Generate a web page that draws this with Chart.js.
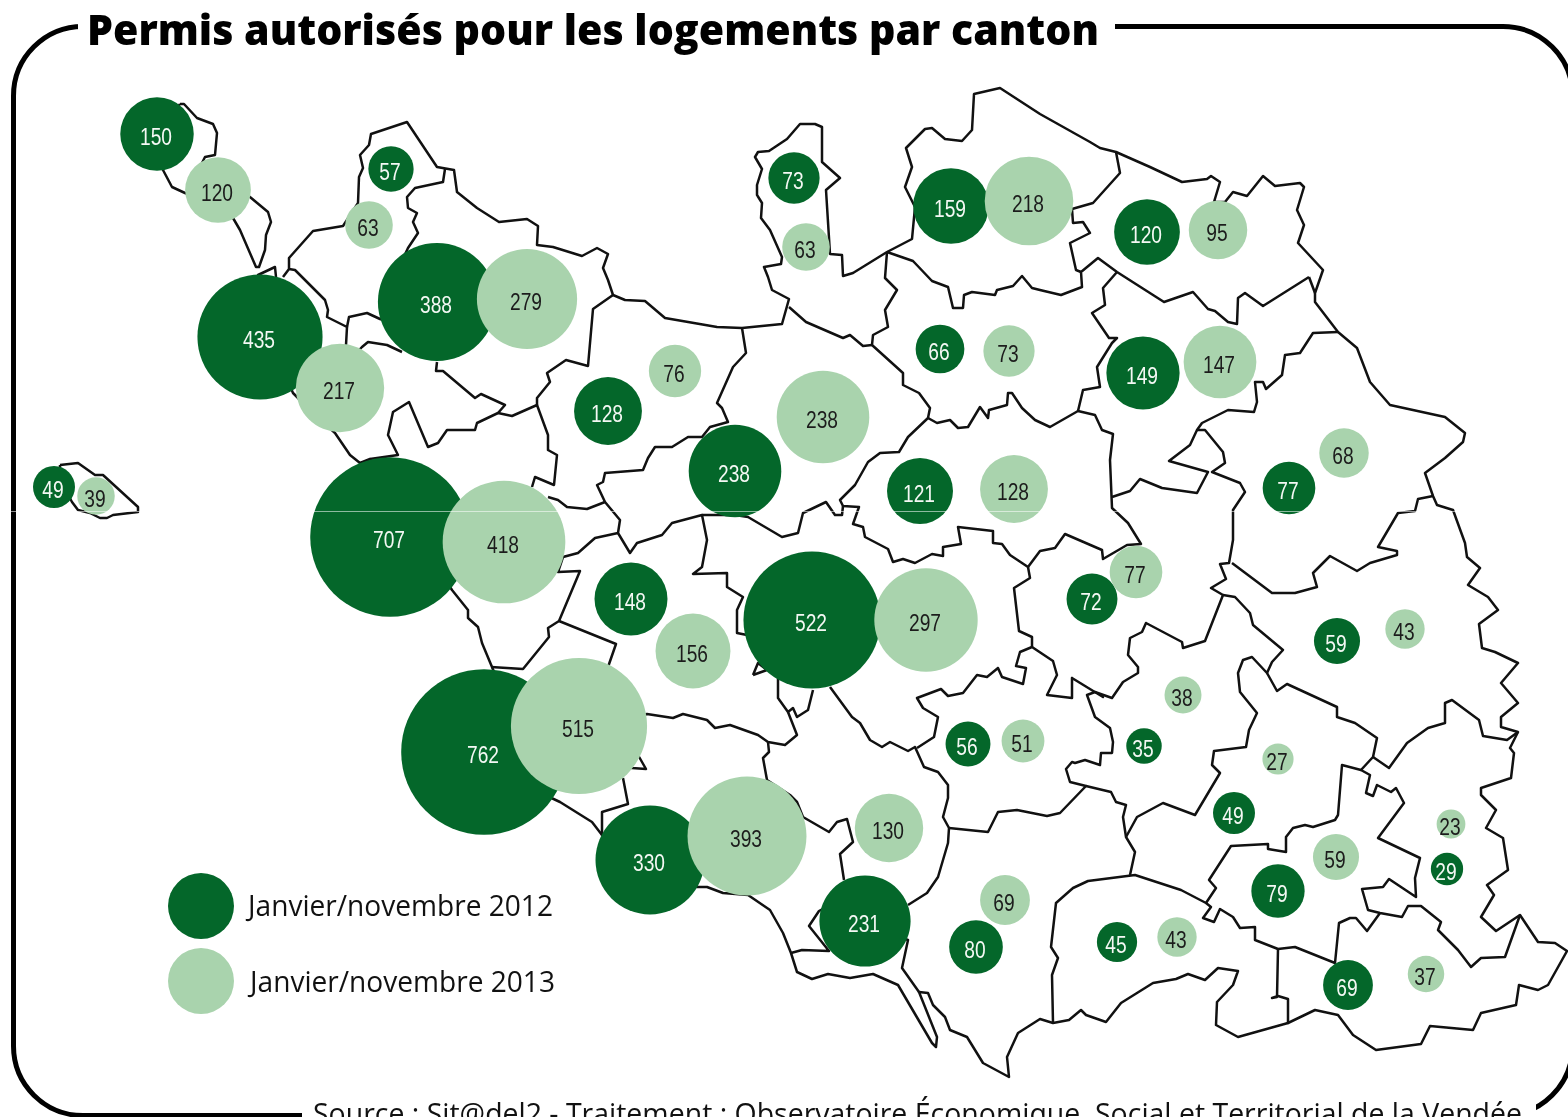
<!DOCTYPE html>
<html lang="fr"><head><meta charset="utf-8"><title>Permis autorisés pour les logements par canton</title>
<script src="https://cdn.jsdelivr.net/npm/chart.js@4"></script>
<style>
html,body{margin:0;padding:0;background:#fff;width:1568px;height:1117px;overflow:hidden}
#stage{position:relative;width:1568px;height:1117px;overflow:hidden}
#frame{position:absolute;left:11px;top:24px;width:1554px;height:1084px;border:5px solid #000;border-radius:72px}
.mask{position:absolute;background:#fff}
.t{position:absolute;white-space:nowrap;line-height:1;font-family:"Open Sans",sans-serif;color:#111;transform-origin:0 0}
canvas{position:absolute;left:0;top:0}
</style></head><body><div id="stage">
<div id="frame"></div>
<div class="mask" style="left:78px;top:10px;width:1037px;height:30px"></div>
<div class="mask" style="left:302px;top:1100px;width:1234px;height:17px"></div>
<canvas id="c" width="1568" height="1117"></canvas>
<div class="t" id="title" data-w="1012" style="left:87px;top:8px;font-size:42px;font-weight:800;color:#000">Permis autorisés pour les logements par canton</div>
<div class="t" id="l1" data-w="305" style="left:248px;top:890px;font-size:29px">Janvier/novembre 2012</div>
<div class="t" id="l2" data-w="305" style="left:250px;top:966px;font-size:29px">Janvier/novembre 2013</div>
<div class="t" id="src" data-w="1209" style="left:313px;top:1098px;font-size:30px">Source : Sit@del2 - Traitement : Observatoire Économique, Social et Territorial de la Vendée</div>
</div>
<script>
// Values
const values2012=[150,57,73,159,120,388,435,66,149,128,238,121,77,49,707,148,72,522,59,56,35,49,762,330,79,29,231,80,45,69];
const x2012=[157,391,794,951,1147,437,260,940,1143,608,735,920,1289,54,390,631,1092,812,1337,968,1144,1234,484,650,1278,1447,865,976,1117,1348];
const y2012=[134,169,178,206,232,302,337,349,373,411,471,491,488,487,537,599,599,620,641,744,746,813,752,860,891,869,921,947,942,985];
const values2013=[120,63,63,218,95,279,73,147,76,217,238,128,68,39,418,77,156,297,43,38,51,27,515,393,130,23,59,69,43,37];
const x2013=[218,369,806,1029,1218,527,1009,1220,675,340,823,1014,1344,96,504,1136,693,926,1405,1183,1023,1278,579,747,889,1451,1336,1005,1177,1426];
const y2013=[190,225,247,201,230,299,351,362,371,388,417,489,453,496,542,572,651,620,629,695,741,759,726,836,828,824,857,900,937,974];
const seriesNames=["Janvier/novembre 2012","Janvier/novembre 2013"];
const legendKeyX=[201,201];
const legendKeyY=[906,981];
// Canton outlines
const islandNorth=[[180,104],[184,104],[197,118],[213,124],[217,133],[215,155],[205,157],[201,165],[225,180],[250,197],[268,212],[271,222],[266,235],[265,250],[259,267],[256,267],[240,230],[233,218],[215,205],[185,193],[172,187],[163,170],[150,140],[180,104]];
const islandWest=[[60,465],[78,463],[95,475],[103,475],[138,507],[138,512],[113,515],[107,518],[100,518],[90,513],[78,510],[72,502],[60,480],[60,465]];
const outerNorth=[[276,277],[275,267],[258,275],[270,340],[293,393],[310,410],[335,433],[350,455],[360,463],[370,459],[420,540],[452,590],[468,610],[468,618],[478,627],[482,643],[492,667],[545,795],[560,802],[592,822],[602,835],[650,870],[697,887],[707,887],[723,893],[748,895],[770,910],[783,933],[791,953],[797,972],[812,979],[828,974],[850,978],[873,974],[898,985],[932,1043],[936,1047],[937,1037],[919,992],[928,993],[933,1005],[945,1017],[950,1030],[967,1037],[983,1063],[1009,1077],[1007,1057],[1018,1033],[1040,1019],[1053,1023],[1069,1020],[1081,1010],[1086,1015],[1106,1022],[1121,1003],[1153,983],[1176,979],[1188,974],[1205,980],[1218,968],[1238,971],[1233,985],[1217,1002],[1216,1025],[1238,1037],[1288,1023],[1315,1010],[1338,1015],[1353,1035],[1376,1050],[1421,1044],[1430,1026],[1473,1030],[1481,1013],[1516,1005],[1519,985],[1538,990],[1548,985],[1567,951],[1555,943],[1538,942],[1520,915],[1496,931],[1481,917],[1494,895],[1487,885],[1508,870],[1503,838],[1486,828],[1496,810],[1481,795],[1481,788],[1511,778],[1514,753],[1510,748],[1518,732],[1501,727],[1501,717],[1518,703],[1501,683],[1518,663],[1495,652],[1482,648],[1479,624],[1498,610],[1488,597],[1468,585],[1480,568],[1467,557],[1465,543],[1453,510],[1437,505],[1433,496],[1425,473],[1445,458],[1463,442],[1465,433],[1445,417],[1390,405],[1370,382],[1357,348],[1338,332],[1315,302],[1315,293],[1323,270],[1298,243],[1304,225],[1297,210],[1304,187],[1300,183],[1275,186],[1263,176],[1247,196],[1233,192],[1225,202],[1214,202],[1220,182],[1211,176],[1207,179],[1182,182],[1150,167],[1116,152],[1100,148],[1090,142],[1040,114],[1000,88],[974,94],[972,130],[962,141],[945,139],[932,128],[925,129],[906,148],[912,167],[905,187],[915,207],[912,239],[887,252],[853,273],[843,276],[842,255],[830,254],[826,190],[840,178],[822,162],[822,127],[815,124],[800,124],[787,139],[769,151],[758,152],[755,157],[762,169],[757,185],[757,195],[762,203],[761,218],[770,230],[782,257],[781,264],[764,267],[768,277],[772,290],[789,299],[782,324],[742,328],[717,327],[665,318],[645,301],[625,300],[613,295],[608,280],[603,268],[608,254],[597,248],[582,256],[553,247],[537,245],[538,226],[527,219],[499,222],[477,208],[457,192],[454,170],[437,167],[407,122],[371,134],[369,145],[360,155],[363,168],[359,177],[358,203],[343,226],[313,231],[289,258],[289,269],[283,277]];
const bordersA=[
[[1309,277],[1315,293]],
[[289,269],[295,270],[325,300],[328,310],[327,317],[347,327],[346,345]],
[[347,327],[349,317],[367,313],[380,319],[400,325]],
[[350,360],[362,347],[368,342],[387,345],[402,352]],
[[437,362],[436,371],[443,371],[475,398],[481,394],[505,405],[498,413],[512,416],[537,405],[548,435],[548,450],[557,455],[554,485],[535,477],[532,487]],
[[370,459],[398,455],[388,435],[393,412],[409,402],[428,447],[438,443],[447,430],[475,430],[477,423],[498,413]],
[[445,169],[443,182],[415,188],[407,197],[408,208],[417,213],[413,222],[418,233],[408,248],[400,265]],
[[613,295],[593,309],[588,366],[566,360],[547,373],[550,382],[537,398],[537,405]],
[[742,328],[746,353],[733,367],[717,403],[722,408],[728,422],[710,427],[702,437],[688,437],[672,447],[655,447],[648,458],[643,470],[605,473],[603,482],[597,485],[605,502],[620,520],[618,533],[630,553],[637,543],[662,535],[672,523],[702,515],[707,540],[702,567],[693,574],[727,573],[727,587],[743,597],[737,610],[737,633],[747,635],[780,640]],
[[605,502],[587,509],[567,507],[558,500],[548,497]],
[[618,533],[595,538],[578,553],[563,557],[558,572],[580,571],[559,621],[548,628],[549,637],[523,669],[491,667]],
[[559,621],[616,644],[608,667]],
[[702,515],[735,515],[748,517],[782,537],[798,533],[803,513],[826,502],[835,515],[842,515],[843,506]],
[[753,675],[758,663],[767,670],[753,675]],
[[778,677],[778,698],[788,712],[793,708],[797,717],[808,710],[813,690]]
];
const bordersB=[
[[788,712],[797,735],[785,745],[768,742],[758,735],[730,725],[715,728],[707,720],[683,714],[673,718],[647,714],[630,720]],
[[768,742],[769,752],[763,758],[767,780],[790,795],[797,802],[803,817],[829,832],[837,822],[847,819],[853,842],[840,854],[844,880]],
[[625,745],[638,755],[646,769],[632,768],[625,765]],
[[623,778],[628,804],[602,812],[602,835]],
[[791,953],[802,950],[829,951],[809,926],[819,911],[830,905]],
[[908,905],[927,893],[938,877],[948,843],[949,828],[943,817],[948,798],[948,785],[938,772],[924,767],[915,747],[908,751],[890,742],[882,747],[870,740],[860,723],[852,717],[830,687]],
[[880,930],[908,940],[902,968],[919,992]],
[[949,828],[988,832],[998,812],[1017,810],[1047,816],[1060,813],[1086,786],[1070,782],[1066,769],[1072,762],[1075,763],[1085,760],[1100,765],[1101,753],[1112,753],[1113,742],[1110,728],[1095,717],[1087,695],[1095,692],[1112,698],[1123,682],[1138,673],[1138,667],[1128,655],[1130,638],[1142,632],[1146,623],[1182,642],[1183,648],[1205,641],[1223,595]],
[[1086,786],[1111,792],[1116,802],[1126,805],[1123,817],[1126,837],[1135,852],[1130,875]],
[[1095,692],[1103,697],[1072,678],[1072,698],[1047,695],[1057,675],[1053,661],[1032,647],[1020,652],[1016,666],[1026,668],[1023,684],[1002,677],[998,668],[987,677],[977,675],[963,693],[948,696],[941,689],[917,698],[923,708],[938,717],[934,737],[917,748]],
[[1032,647],[1032,637],[1019,631],[1014,588],[1030,578],[1028,567],[1010,555],[1002,544],[993,543],[993,531],[958,527],[961,544],[943,547],[943,556],[932,554],[915,563],[903,559],[893,562],[888,549],[865,537],[863,527],[853,524],[859,507],[843,506],[840,500],[855,485],[868,462],[880,453],[899,452],[908,437],[928,418],[930,408],[919,393],[903,385],[903,373],[872,345],[873,335],[888,327],[885,310],[897,290],[885,278],[887,252]],
[[789,307],[806,322],[843,338],[850,335],[863,346],[872,345]],
[[928,418],[937,423],[950,420],[958,428],[968,427],[980,407],[988,418],[989,410],[1007,405],[1008,393],[1012,393],[1022,408],[1035,420],[1050,427],[1078,411],[1095,415],[1102,430],[1113,434],[1110,460],[1112,508],[1128,523],[1141,544],[1127,545],[1103,559],[1102,550],[1065,534],[1055,548],[1040,551],[1028,567]]
];
const bordersC=[
[[1078,411],[1083,390],[1100,387],[1097,367],[1112,343],[1117,338],[1109,338],[1092,313],[1105,305],[1103,288],[1117,272]],
[[887,252],[913,261],[932,281],[948,287],[953,308],[963,308],[964,295],[972,292],[995,295],[997,290],[1013,286],[1022,276],[1032,288],[1040,290],[1061,295],[1082,287],[1081,272],[1098,258],[1117,272],[1164,302],[1193,292],[1208,309],[1215,311],[1228,322],[1237,324],[1238,298],[1245,293],[1263,306],[1309,277]],
[[1081,272],[1076,270],[1070,243],[1090,233],[1083,222],[1073,223],[1072,209],[1093,203],[1120,173],[1116,152]],
[[1338,332],[1313,333],[1300,353],[1285,355],[1282,375],[1266,389],[1263,382],[1255,382],[1257,402],[1254,412],[1228,410],[1202,423],[1197,430],[1190,445],[1169,461],[1208,472],[1197,493],[1162,488],[1140,479],[1130,491],[1112,497]],
[[1197,430],[1205,430],[1223,452],[1225,463],[1212,472],[1240,483],[1245,492],[1233,510],[1233,540],[1229,563],[1220,564],[1226,579],[1211,588],[1223,595],[1235,597],[1250,613],[1253,625],[1283,650],[1272,662],[1267,673],[1252,657],[1243,660],[1238,673],[1240,692],[1257,713],[1249,730],[1246,747],[1214,751],[1212,765],[1220,773],[1195,815],[1163,803],[1137,817],[1126,837]],
[[1232,563],[1272,593],[1295,593],[1317,587],[1313,573],[1330,556],[1357,571],[1370,563],[1397,555],[1397,551],[1378,547],[1398,513],[1415,511],[1418,499],[1433,496]],
[[1267,673],[1277,691],[1287,684],[1337,707],[1337,717],[1355,723],[1377,738],[1373,757],[1361,770],[1342,765],[1338,815],[1335,820],[1313,827],[1305,825],[1293,828],[1286,837],[1286,852],[1268,849],[1268,844],[1231,846],[1209,880],[1216,888],[1206,903]],
[[1373,757],[1389,768],[1407,743],[1428,728],[1445,723],[1445,703],[1452,700],[1479,720],[1483,736],[1507,740],[1518,732]],
[[1361,770],[1370,775],[1366,793],[1373,796],[1377,785],[1391,792],[1396,788],[1404,803],[1378,838],[1420,858],[1415,878],[1416,897],[1389,879],[1383,887],[1362,889],[1368,910],[1380,913],[1402,917],[1408,906],[1421,906],[1441,922],[1438,930],[1458,950],[1471,967],[1481,958],[1505,957],[1520,915]],
[[1380,913],[1367,931],[1356,918],[1350,918],[1339,923],[1335,963],[1295,947],[1278,949],[1255,940],[1255,927],[1240,928],[1233,917],[1220,909],[1214,922],[1203,918],[1211,907],[1206,903],[1181,890],[1135,875],[1088,881],[1073,888],[1056,903],[1051,947],[1058,958],[1052,975],[1053,1023]],
[[1278,949],[1277,997],[1272,998],[1278,996],[1288,999],[1288,1023]]
];
const scanLine=[[0,511.5],[1568,511.5]];
const allBorders=[islandNorth,islandWest,outerNorth,...bordersA,...bordersB,...bordersC];
const dark="#04672a", light="#a9d3ad";
const radiusOf=v=>3*Math.sqrt(v);
const zip=(xs,ys,vs)=>vs.map((v,i)=>({x:xs[i],y:ys[i],r:radiusOf(v),v}));
const lineDs=(path,color,width,order)=>({type:"line",data:path.map(p=>({x:p[0],y:p[1]})),borderColor:color,borderWidth:width,pointRadius:0,tension:0,fill:false,order,borderJoinStyle:"round"});
const bubbleLabels={id:"bubbleLabels",afterDatasetsDraw(ch){
  const c=ch.ctx;c.save();c.textAlign="center";c.textBaseline="middle";c.font='24px "Liberation Sans",sans-serif';
  ch.data.datasets.forEach((d,i)=>{if(!d.labelColor)return;
    ch.getDatasetMeta(i).data.forEach((el,j)=>{c.save();c.translate(el.x-1,el.y+4);c.scale(0.8,1);c.fillStyle=d.labelColor;c.fillText(String(d.data[j].v),0,0);c.restore();});});
  c.restore();}};
new Chart(document.getElementById("c"),{
  type:"bubble",
  data:{datasets:[
    {label:"scan",...lineDs(scanLine,"rgba(255,255,255,.55)",1,0)},
    {label:seriesNames[1],data:zip(x2013,y2013,values2013),backgroundColor:light,borderWidth:0,order:1,labelColor:"#1c1c1c"},
    {label:seriesNames[0],data:zip(x2012,y2012,values2012),backgroundColor:dark,borderWidth:0,order:2,labelColor:"#f4f8f4"},
    {label:"key2012",data:[{x:legendKeyX[0],y:legendKeyY[0],r:33}],backgroundColor:dark,borderWidth:0,order:2},
    {label:"key2013",data:[{x:legendKeyX[1],y:legendKeyY[1],r:33}],backgroundColor:light,borderWidth:0,order:2},
    ...allBorders.map(p=>lineDs(p,"#111",2.5,5))
  ]},
  options:{responsive:false,animation:false,devicePixelRatio:1,layout:{padding:0,autoPadding:false},
    plugins:{legend:{display:false},tooltip:{enabled:false},title:{display:false}},
    events:[],
    scales:{x:{type:"linear",display:false,min:0,max:1568},y:{type:"linear",display:false,reverse:true,min:0,max:1117}}},
  plugins:[bubbleLabels]
});
document.querySelectorAll(".t").forEach(el=>{const w=+el.dataset.w,a=el.getBoundingClientRect().width;el.style.transform="scaleX("+(w/a)+")";});
</script></body></html>
